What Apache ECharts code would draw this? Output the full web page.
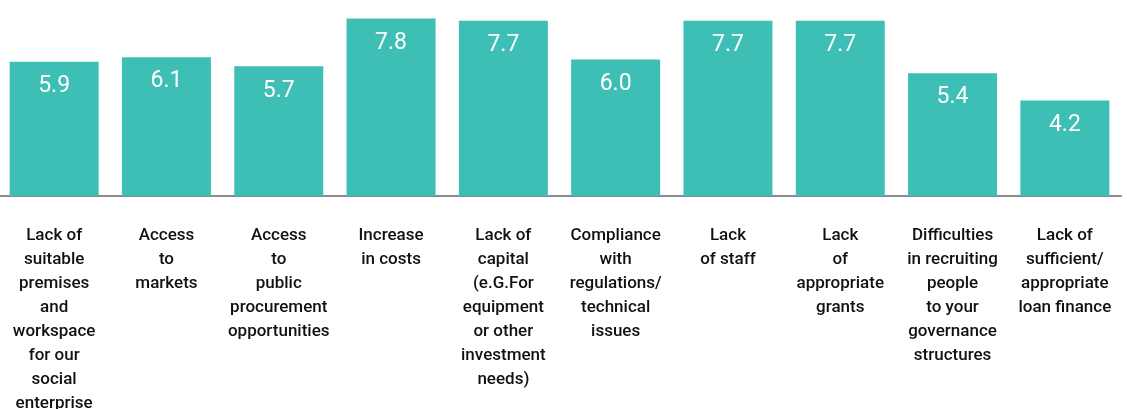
<!DOCTYPE html>
<html><head><meta charset="utf-8">
<script src="https://cdn.jsdelivr.net/npm/echarts@6/dist/echarts.min.js"></script>
<style>html,body{margin:0;padding:0;background:#fff}#c{width:1127px;height:409px}</style>
</head><body><div id="c"></div>
<script>
const categories = [
  "Lack of\nsuitable\npremises\nand\nworkspace\nfor our\nsocial\nenterprise",
  "Access\nto\nmarkets",
  "Access\nto\npublic\nprocurement\nopportunities",
  "Increase\nin costs",
  "Lack of\ncapital\n(e.G.For\nequipment\nor other\ninvestment\nneeds)",
  "Compliance\nwith\nregulations/\ntechnical\nissues",
  "Lack\nof staff",
  "Lack\nof\nappropriate\ngrants",
  "Difficulties\nin recruiting\npeople\nto your\ngovernance\nstructures",
  "Lack of\nsufficient/\nappropriate\nloan finance"
];
const values = [5.9, 6.1, 5.7, 7.8, 7.7, 6.0, 7.7, 7.7, 5.4, 4.2];

const chart = echarts.init(document.getElementById('c'), null, {renderer: 'canvas'});
chart.setOption({
  animation: false,
  grid: {left: -2, right: 6, top: 14, bottom: 213, containLabel: false, outerBoundsMode: 'none'},
  xAxis: {
    type: 'category',
    data: categories,
    axisLine: {show: true, lineStyle: {color: '#8a8b8d', width: 2}},
    axisTick: {show: false},
    axisLabel: {
      interval: 0, margin: 28, color: '#111', fontFamily: 'Roboto', fontWeight: 500, fontSize: 17,
      lineHeight: 24, align: 'center', verticalAlign: 'top', hideOverlap: false
    }
  },
  yAxis: {type: 'value', min: 0, max: 8, show: false, splitLine: {show: false}},
  series: [{
    type: 'bar',
    data: values,
    barWidth: 89,
    itemStyle: {color: '#3dbfb5'},
    label: {
      show: true, position: 'insideTop', distance: 13,
      color: '#fff', fontFamily: 'Roboto', fontSize: 23,
      formatter: p => p.value.toFixed(1)
    }
  }]
});
</script></body></html>
